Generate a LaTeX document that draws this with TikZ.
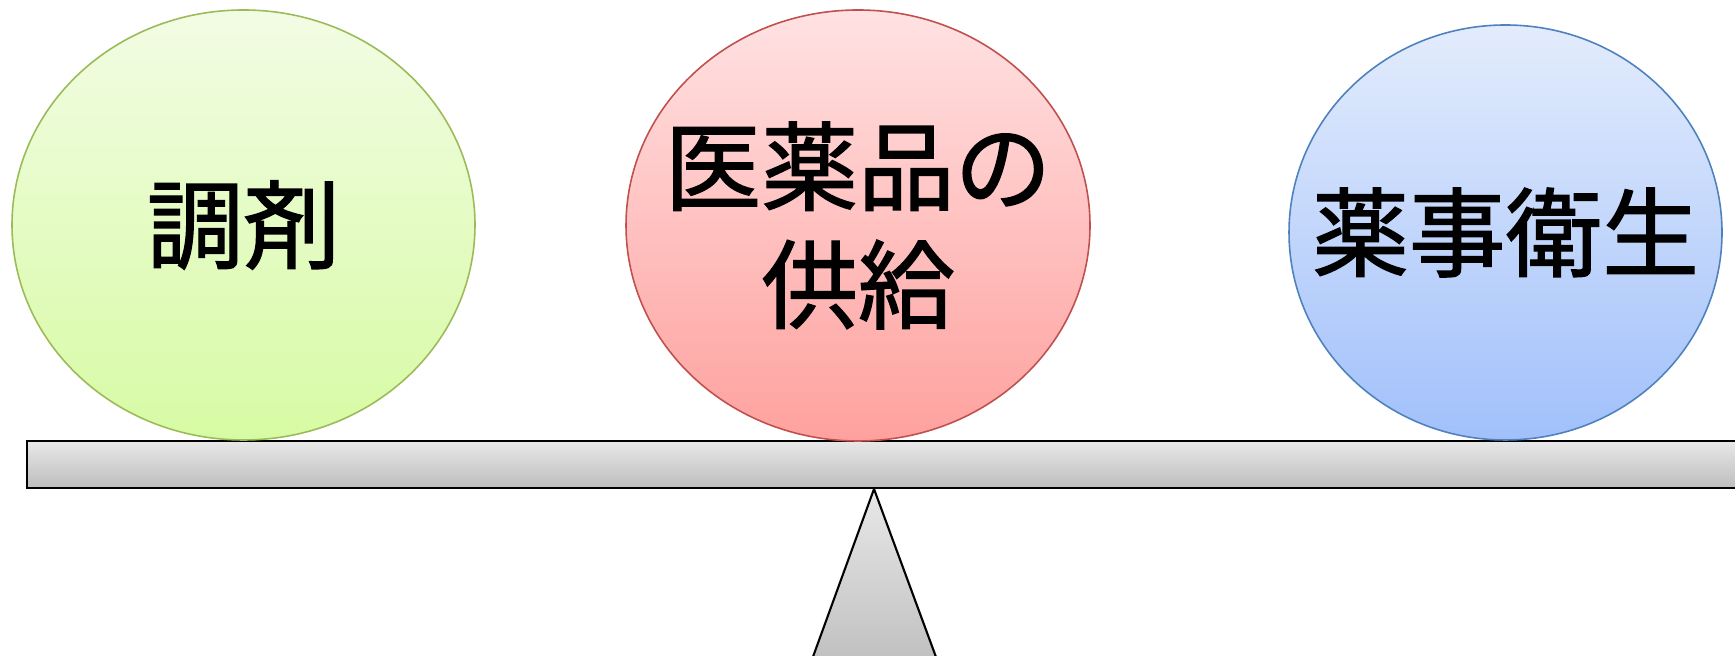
\documentclass[tikz,border=0pt]{standalone}
\usepackage{fontspec}
\newfontfamily\cjk[FakeBold=1.4]{Noto Sans CJK JP}
\usetikzlibrary{shapes.geometric}
\definecolor{chozaitop}{HTML}{F2FCE4}
\definecolor{chozaibot}{HTML}{D7FBA4}
\definecolor{chozailine}{HTML}{9BBB59}
\definecolor{kyokyutop}{HTML}{FFE2E3}
\definecolor{kyokyubot}{HTML}{FEA19E}
\definecolor{kyokyuline}{HTML}{C0504D}
\definecolor{yakujitop}{HTML}{E3ECFC}
\definecolor{yakujibot}{HTML}{A1C0FB}
\definecolor{yakujiline}{HTML}{4F81BD}
\definecolor{beamtop}{HTML}{E8E8E8}
\definecolor{beambot}{HTML}{BDBDBD}
\tikzset{
  ball/.style={ellipse, draw=#1line, top color=#1top, bottom color=#1bot, line width=0.45pt, inner sep=0pt},
  word/.style={font=\cjk\fontsize{27.5}{33.6}\selectfont, align=center},
  steel/.style={draw=black, line width=0.6pt, top color=beamtop, bottom color=beambot}
}
\begin{document}
\begin{tikzpicture}
\useasboundingbox (0,0) rectangle (17.35,6.56);

\draw[steel] (8.74,1.67) -- (8.06,-0.2) -- (9.43,-0.2) -- cycle;
\draw[steel] (0.27,1.68) rectangle (17.6,2.15);

\node[ball=chozai, minimum width=4.63cm, minimum height=4.30cm] (chozai) at (2.435,4.31) {};
\node[ball=kyokyu, minimum width=4.64cm, minimum height=4.31cm] (kyokyu) at (8.58,4.305) {};
\node[ball=yakuji, minimum width=4.33cm, minimum height=4.15cm] (yakuji) at (15.055,4.235) {};

\node[word] (chozaitxt) at (chozai) {調剤};
\node[word] (kyokyutxt) at (kyokyu) {医薬品の\\供給};
\node[word] (yakujitxt) at (yakuji) {薬事衛生};

\end{tikzpicture}
\end{document}
